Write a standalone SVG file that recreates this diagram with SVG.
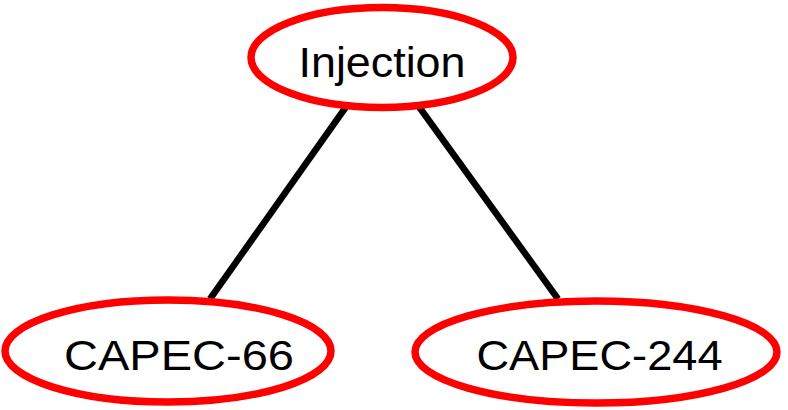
<svg xmlns="http://www.w3.org/2000/svg" width="788" height="410" viewBox="0 0 788 410">
<style>
.node ellipse{fill:#fff;stroke:#ff0000;stroke-width:7.5}
.node text{font-family:"Liberation Sans",Arial,sans-serif;font-size:42px;fill:#000;text-anchor:middle}
.edge line{stroke:#000;stroke-width:6.5}
</style>
<rect width="788" height="410" fill="#fff"/>
<g id="edges" class="edge">
<line x1="348" y1="104" x2="210" y2="299"/>
<line x1="417" y1="104" x2="558" y2="299"/>
</g>
<g id="node-injection" class="node">
<ellipse cx="382" cy="57.5" rx="131" ry="50"/>
<text x="382" y="76.5" textLength="167" lengthAdjust="spacingAndGlyphs">Injection</text>
</g>
<g id="node-capec66" class="node">
<ellipse cx="168" cy="351" rx="163" ry="51"/>
<text x="179" y="369.5" textLength="230" lengthAdjust="spacingAndGlyphs">CAPEC-66</text>
</g>
<g id="node-capec244" class="node">
<ellipse cx="596" cy="352" rx="181" ry="51"/>
<text x="599.5" y="369.5" textLength="246" lengthAdjust="spacingAndGlyphs">CAPEC-244</text>
</g>
</svg>
